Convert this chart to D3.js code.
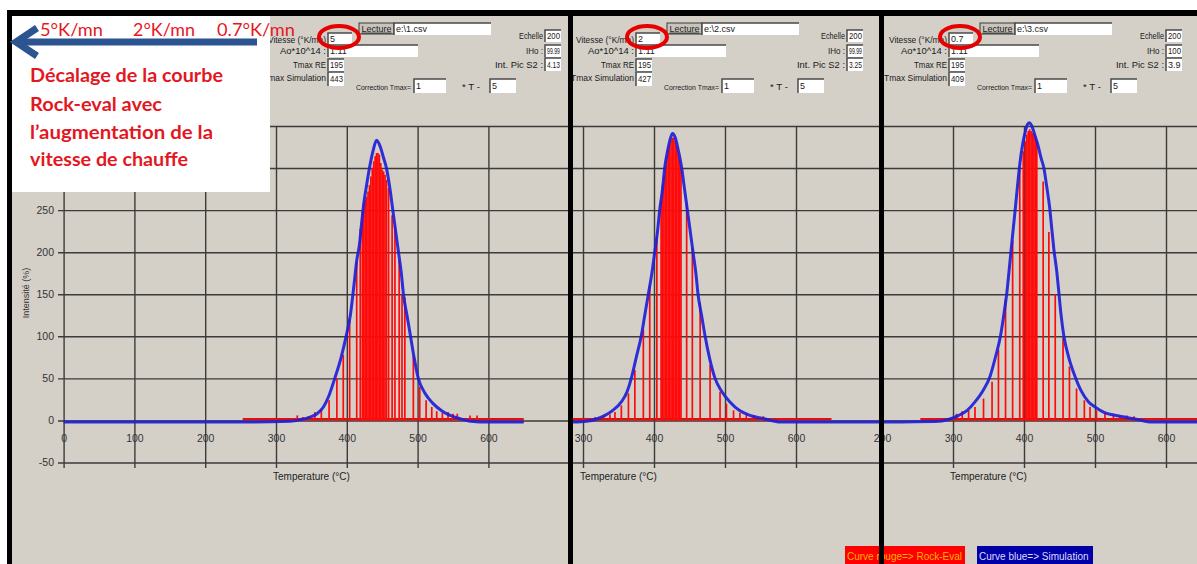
<!DOCTYPE html>
<html>
<head>
<meta charset="utf-8">
<script src="https://cdn.jsdelivr.net/npm/d3@7"></script>
<style>
  body { margin: 0; background: #fff; }
  svg { display: block; }
</style>
</head>
<body>
<svg id="chart" width="1197" height="564"></svg>
<script>
// ---- annotation texts ----
const rateLabels = ["5°K/mn", "2°K/mn", "0.7°K/mn"];
const noteLines = ["Décalage de la courbe", "Rock-eval avec", "l’augmentation de la", "vitesse de chauffe"];
const legendLabels = ["Curve rouge=> Rock-Eval", "Curve blue=> Simulation"];

// ---- axes ----
const yTicks = [-50, 0, 50, 100, 150, 200, 250, 300, 350];
const yTickLabels = ["-50", "0", "50", "100", "150", "200", "250", "", ""];
const xTicks1 = [0, 100, 200, 300, 400, 500, 600];
const xTicks2 = [300, 400, 500, 600];
const xTicks3 = [200, 300, 400, 500, 600];

// ---- form values, one per heating rate ----
const vitesse = ["5", "2", "0.7"];
const fichiers = ["e:\\1.csv", "e:\\2.csv", "e:\\3.csv"];
const ao = ["1.11", "1.11", "1.11"];
const tmaxRE = ["195", "195", "195"];
const tmaxSim = ["443", "427", "409"];
const echelle = ["200", "200", "200"];
const iho = ["99.99", "99.99", "100"];
const picS2 = ["4.13", "3.25", "3.9"];
const corrA = ["1", "1", "1"];
const corrB = ["5", "5", "5"];

// ---- Rock-Eval S2 signal: [temperature °C, intensity %] ----
const rock1 = [[330,6],[338,4],[346,5],[355,10],[364,14],[375,24],[386,50],[395,78],[404,120],[414,188],[419,228],
  [422,250],[424,258],[426,262],[428,266],[430,272],[432,280],[434,290],[436,300],[438,308],[440,314],[442,318],
  [444,318],[446,316],[448,306],[450,298],[452,296],[454,292],[456,286],[459,276],[464,244],[468,232],[474,190],
  [478,150],[482,146],[494,76],[503,40],[512,24],[520,16],[527,11],[535,9],[543,10],[550,8],[556,8],[574,6],[584,6]];
const rock2 = [[317,4],[329,6],[338,7],[345,10],[354,18],[364,32],[373,60],[385,108],[394,160],[404,218],[410,262],
  [412,280],[414,290],[416,303],[418,314],[420,322],[422,328],[424,334],[426,336],[428,336],[430,332],[432,326],
  [434,318],[436,310],[438,300],[446,258],[454,205],[465,140],[479,66],[493,34],[502,20],[512,12],[521,9],[530,7],
  [540,6],[554,5]];
const rock3 = [[305,8],[313,11],[322,12],[331,16],[343,26],[355,46],[364,84],[374,144],[384,214],[394,298],[399,320],
  [402,332],[404,340],[406,344],[408,346],[410,344],[412,342],[414,340],[416,336],[418,332],[427,284],[435,224],
  [444,150],[455,98],[464,64],[474,38],[485,24],[493,16],[502,12],[514,9],[526,7],[535,6],[545,6],[555,5]];
// extent of the recorded Rock-Eval trace along the baseline
const rockSpan1 = [253, 650];
const rockSpan2 = [285, 650];
const rockSpan3 = [254, 720];

// ---- simulated curve: [temperature °C, intensity %] ----
const sim1 = [[0,-2],[250,-2],[320,-1],[335,1],[348,4],[358,8],[367,16],[375,30],[383,50],[392,75],[399,100],
  [405,125],[410,160],[414,190],[418,210],[421,235],[424,258],[428,280],[432,300],[437,320],[442,333],[447,326],
  [452,312],[456,300],[461,275],[465,250],[469,225],[473,200],[477,175],[480,150],[485,125],[490,100],[495,75],
  [501,50],[510,33],[522,20],[535,11],[546,6],[560,2],[575,-1],[600,-2],[650,-2]];
const sim2 = [[285,-2],[305,-1],[320,2],[331,6],[342,12],[354,22],[362,34],[368,50],[375,75],[382,100],[387,125],
  [392,150],[397,175],[401,200],[405,225],[408,250],[412,275],[415,300],[419,320],[423,335],[426,341],[430,336],
  [434,322],[439,300],[443,275],[447,250],[451,225],[455,200],[459,175],[462,150],[467,125],[472,100],[478,75],
  [486,50],[495,35],[507,22],[520,12],[535,6],[550,3],[565,0],[580,-2],[720,-2]];
const sim3 = [[200,-2],[280,-1],[300,3],[308,6],[320,12],[331,22],[342,35],[352,52],[360,76],[367,101],[372,128],
  [376,153],[379,178],[382,204],[385,229],[388,254],[391,280],[394,304],[398,328],[402,344],[405,352],[408,354],
  [411,350],[415,340],[420,326],[424,312],[428,300],[432,278],[436,254],[439,229],[442,204],[446,178],[449,153],
  [452,127],[456,101],[463,75],[472,52],[480,36],[491,22],[500,16],[512,10],[523,7],[535,5],[548,3],[560,1],
  [580,-2],[720,-2]];

// ---------------------------------------------------------------
const W = 1197, H = 564;
const GRAY = "#d4d0c8";
const UI_FONT = "'Liberation Sans', Arial, sans-serif";
const svg = d3.select("#chart");
const defs = svg.append("defs");

svg.append("rect").attr("width", W).attr("height", H).attr("fill", "#fff");
svg.append("rect").attr("x", 7).attr("y", 10).attr("width", W - 7).attr("height", H - 10).attr("fill", GRAY);

// shared intensity scale
const y = d3.scaleLinear().domain([-50, 350]).range([462.5, 126]);

const panels = [
  { x0: 12, x1: 568, dom: [0, 600], rng: [63.6, 488.4], ticks: xTicks1, rock: rock1, sim: sim1, span: rockSpan1, gridStart: 58, fx: 328, fr: 545 },
  { x0: 573, x1: 879, dom: [300, 600], rng: [583, 796], ticks: xTicks2, rock: rock2, sim: sim2, span: rockSpan2, gridStart: 573, fx: 636, fr: 847 },
  { x0: 884, x1: 1197, dom: [300, 600], rng: [953, 1166], ticks: xTicks3, rock: rock3, sim: sim3, span: rockSpan3, gridStart: 884, fx: 949, fr: 1166 }
];

function label(x, yy, txt, anchor, width, size) {
  const t = svg.append("text").attr("x", x).attr("y", yy).attr("dy", "0.35em")
    .attr("text-anchor", anchor).attr("font-family", UI_FONT).attr("font-size", size || 9)
    .attr("fill", "#1a1a1a").text(txt);
  if (width) t.attr("textLength", width).attr("lengthAdjust", "spacingAndGlyphs");
}
function field(x, yy, w, h, txt) {
  svg.append("rect").attr("x", x).attr("y", yy).attr("width", w).attr("height", h).attr("fill", "#fff");
  svg.append("path").attr("d", `M${x},${yy + h} V${yy} H${x + w}`)
    .attr("fill", "none").attr("stroke", "#4a4a4a").attr("stroke-width", 1.5);
  if (txt) {
    const t = svg.append("text").attr("x", x + 2).attr("y", yy + h / 2).attr("dy", "0.35em")
      .attr("font-family", UI_FONT).attr("font-size", 9).attr("fill", "#222").text(txt);
    const len = t.node().getComputedTextLength();
    if (len > w - 3) t.attr("textLength", w - 3).attr("lengthAdjust", "spacingAndGlyphs");
  }
}
function button(x, yy, w, h, txt) {
  svg.append("rect").attr("x", x).attr("y", yy).attr("width", w).attr("height", h)
    .attr("fill", "#c8c4bc").attr("stroke", "#3a3a3a").attr("stroke-width", 1);
  svg.append("text").attr("x", x + w / 2).attr("y", yy + h / 2).attr("dy", "0.35em")
    .attr("text-anchor", "middle").attr("font-family", UI_FONT).attr("font-size", 9)
    .attr("fill", "#222").attr("text-decoration", "underline").text(txt);
}

panels.forEach((p, i) => {
  const x = d3.scaleLinear().domain(p.dom).range(p.rng);

  defs.append("clipPath").attr("id", "plot" + i)
    .append("rect").attr("x", p.x0).attr("y", 100).attr("width", p.x1 - p.x0).attr("height", H - 100);
  defs.append("clipPath").attr("id", "labels" + i)
    .append("rect").attr("x", p.x0 - 12).attr("y", 100).attr("width", p.x1 - p.x0 + 12).attr("height", H - 100);

  const g = svg.append("g").attr("clip-path", `url(#plot${i})`);

  // horizontal grid (with intensity labels on the first panel)
  const gy = g.append("g")
    .attr("transform", `translate(${p.gridStart},0)`)
    .call(d3.axisLeft(y).tickValues(yTicks).tickSize(-(p.x1 - p.gridStart)).tickPadding(4)
      .tickFormat((d, k) => i === 0 ? yTickLabels[k] : ""));
  gy.select(".domain").remove();
  gy.selectAll(".tick line").attr("stroke", "#3b3b3b").attr("stroke-width", 1.4);
  gy.selectAll(".tick text").attr("fill", "#333").attr("font-family", UI_FONT).attr("font-size", 10.5);

  // vertical grid
  const gx = g.append("g")
    .attr("transform", "translate(0,468)")
    .call(d3.axisBottom(x).tickValues(p.ticks).tickSize(-342).tickFormat(() => ""));
  gx.select(".domain").remove();
  gx.selectAll(".tick line").attr("stroke", "#3b3b3b").attr("stroke-width", 1.4);

  // temperature tick labels, drawn across the gridlines
  const gl = svg.append("g").attr("clip-path", `url(#labels${i})`)
    .append("g").attr("transform", "translate(0,468)")
    .call(d3.axisBottom(x).tickValues(p.ticks).tickSize(0).tickFormat(d3.format("d")));
  gl.select(".domain").remove();
  gl.selectAll(".tick text").attr("y", -30).attr("dy", "0.35em")
    .attr("fill", "#333").attr("font-family", UI_FONT).attr("font-size", 10.5);

  // Rock-Eval trace: baseline run plus vertical bars
  g.append("line")
    .attr("x1", x(p.span[0])).attr("x2", x(p.span[1]))
    .attr("y1", y(1.5)).attr("y2", y(1.5))
    .attr("stroke", "#e01010").attr("stroke-width", 2.6);
  g.selectAll("line.rock").data(p.rock).join("line")
    .attr("class", "rock")
    .attr("x1", d => x(d[0])).attr("x2", d => x(d[0]))
    .attr("y1", y(0)).attr("y2", d => y(d[1]))
    .attr("stroke", "#ff0a0a").attr("stroke-width", 1.7);

  // simulated curve
  g.append("path").datum(p.sim)
    .attr("d", d3.line().x(d => x(d[0])).y(d => y(d[1])).curve(d3.curveMonotoneX))
    .attr("fill", "none").attr("stroke", "#1f1fd8").attr("stroke-width", 3).attr("opacity", 0.92);

  // axis title
  svg.append("text")
    .attr("x", x(350)).attr("y", 480).attr("text-anchor", "middle")
    .attr("font-family", UI_FONT).attr("font-size", 10).attr("fill", "#222")
    .text("Temperature (°C)");

  // ---- parameter form above the plot ----
  const fx = p.fx, fr = p.fr;
  label(fx - 2, 40, "Vitesse (°K/mn)", "end", 58);
  field(fx, 33, 24, 12, vitesse[i]);
  button(fx + 31, 23, 35, 11, "Lecture");
  field(fx + 66, 23, 97, 12, fichiers[i]);
  label(fx - 2, 51, "Ao*10^14 :", "end", 46);
  field(fx, 45, 90, 12, ao[i]);
  label(fx - 2, 65, "Tmax RE", "end", 33);
  field(fx, 59, 16, 12, tmaxRE[i]);
  label(fx - 2, 78, "Tmax Simulation", "end", 63);
  field(fx, 72, 16, 14, tmaxSim[i]);
  label(fx + 28, 87, "Correction Tmax=", "start", 55, 7.5);
  field(fx + 86, 79, 32, 14, corrA[i]);
  label(fx + 134, 87, "* T -", "start", 18);
  field(fx + 162, 79, 26, 14, corrB[i]);
  label(fr - 2, 36, "Echelle", "end", 24);
  field(fr, 30, 16, 12, echelle[i]);
  label(fr - 2, 51, "IHo :", "end", 17);
  field(fr, 45, 16, 12, iho[i]);
  label(fr - 2, 65, "Int. Pic S2 :", "end", 48);
  field(fr, 58, 16, 13, picS2[i]);

  // highlight on the heating-rate field
  svg.append("ellipse")
    .attr("cx", fx + 11).attr("cy", 37).attr("rx", 20).attr("ry", 11)
    .attr("fill", "none").attr("stroke", "#e60000").attr("stroke-width", 4);
});

// intensity axis title
svg.append("text")
  .attr("transform", "translate(29,293) rotate(-90)")
  .attr("text-anchor", "middle").attr("font-family", UI_FONT).attr("font-size", 9).attr("fill", "#333")
  .text("Intensité (%)");

// ---- legend strip ----
svg.append("rect").attr("x", 845).attr("y", 546).attr("width", 120).attr("height", 18).attr("fill", "#ff0000");
svg.append("text").attr("x", 847).attr("y", 556).attr("dy", "0.35em")
  .attr("font-family", UI_FONT).attr("font-size", 10).attr("fill", "#ffb400").text(legendLabels[0]);
svg.append("rect").attr("x", 977).attr("y", 546).attr("width", 116).attr("height", 18).attr("fill", "#0000a8");
svg.append("text").attr("x", 979).attr("y", 556).attr("dy", "0.35em")
  .attr("font-family", UI_FONT).attr("font-size", 10).attr("fill", "#dcdcff").text(legendLabels[1]);

// ---- black frame and separators ----
svg.append("rect").attr("x", 7).attr("y", 10).attr("width", W - 7).attr("height", 6).attr("fill", "#000");
svg.append("rect").attr("x", 7).attr("y", 10).attr("width", 5).attr("height", H - 10).attr("fill", "#000");
svg.append("rect").attr("x", 568).attr("y", 10).attr("width", 5).attr("height", H - 10).attr("fill", "#000");
svg.append("rect").attr("x", 879).attr("y", 10).attr("width", 5).attr("height", H - 10).attr("fill", "#000");

// ---- annotation box ----
svg.append("rect").attr("x", 12).attr("y", 16).attr("width", 258).attr("height", 176).attr("fill", "#fff");
const ARROW = "#2b5491";
svg.append("line").attr("x1", 257).attr("x2", 17).attr("y1", 42).attr("y2", 42)
  .attr("stroke", ARROW).attr("stroke-width", 7);
svg.append("path").attr("d", "M37,28 L16,42 L37,56")
  .attr("fill", "none").attr("stroke", ARROW).attr("stroke-width", 7).attr("stroke-linejoin", "miter");

const rateX = [40, 133, 217], rateW = [63, 62, 78];
svg.selectAll("text.rate").data(rateLabels).join("text")
  .attr("class", "rate")
  .attr("x", (d, i) => rateX[i]).attr("y", 36)
  .attr("textLength", (d, i) => rateW[i]).attr("lengthAdjust", "spacingAndGlyphs")
  .attr("font-family", "Lato, 'Liberation Sans', sans-serif").attr("font-size", 17)
  .attr("fill", "#e8161e").text(d => d);

const noteY = [82, 111, 139, 166], noteW = [193, 132, 183, 158];
svg.selectAll("text.note").data(noteLines).join("text")
  .attr("class", "note")
  .attr("x", 30).attr("y", (d, i) => noteY[i])
  .attr("textLength", (d, i) => noteW[i]).attr("lengthAdjust", "spacingAndGlyphs")
  .attr("font-family", "Lato, 'Liberation Sans', sans-serif").attr("font-weight", "bold").attr("font-size", 19)
  .attr("fill", "#e3171f").text(d => d);
</script>
</body>
</html>
